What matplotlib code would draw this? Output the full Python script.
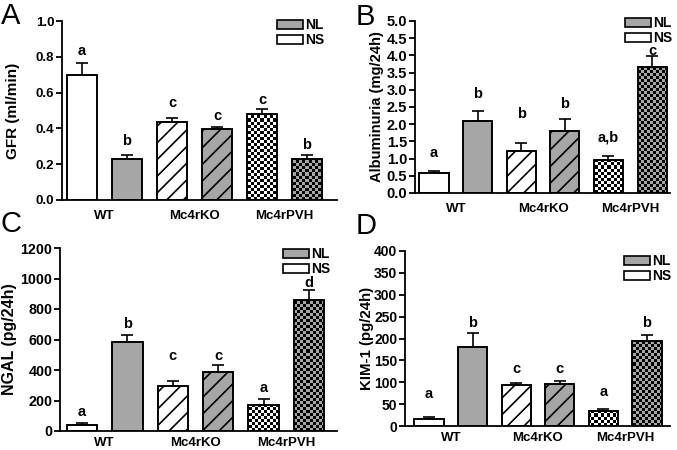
import numpy as np
import matplotlib
matplotlib.use('Agg')
import matplotlib.pyplot as plt
from matplotlib.patches import Patch

plt.rcParams['font.family'] = ['Liberation Sans', 'DejaVu Sans']
plt.rcParams['hatch.linewidth'] = 1.2

# group labels and bar order (NS, NL per group)
groups = ['WT', 'Mc4rKO', 'Mc4rPVH']
legend_labels = ['NL', 'NS']

# A - GFR
gfr_mean = [0.70, 0.23, 0.437, 0.396, 0.483, 0.23]
gfr_sem = [0.065, 0.02, 0.022, 0.013, 0.026, 0.023]
gfr_letters = ['a', 'b', 'c', 'c', 'c', 'b']
gfr_letter_y = [0.83, 0.33, 0.54, 0.47, 0.56, 0.31]

# B - Albuminuria
alb_mean = [0.58, 2.10, 1.23, 1.80, 0.97, 3.66]
alb_sem = [0.05, 0.28, 0.22, 0.34, 0.11, 0.31]
alb_letters = ['a', 'b', 'b', 'b', 'a,b', 'c']
alb_letter_y = [1.16, 2.87, 2.31, 2.59, 1.61, 4.13]

# C - NGAL
ngal_mean = [42, 585, 297, 385, 170, 860]
ngal_sem = [9, 45, 30, 48, 37, 65]
ngal_letters = ['a', 'b', 'c', 'c', 'a', 'd']
ngal_letter_y = [127, 700, 495, 495, 280, 970]

# D - KIM-1
kim_mean = [15, 180, 94, 95, 35, 195]
kim_sem = [5, 33, 4, 9, 5, 13]
kim_letters = ['a', 'b', 'c', 'c', 'a', 'b']
kim_letter_y = [72, 236, 130, 130, 78, 236]

GRAY = '#a6a6a6'
face = ['white', GRAY, 'white', GRAY, 'white', GRAY]
hatch = [None, None, '//', '//', None, None]
checker = [False, False, False, False, True, True]

W, H = 677, 450
fig = plt.figure(figsize=(W / 100, H / 100), dpi=100)


def px_axes(l, r, t, b):
    return fig.add_axes([l / W, (H - b) / H, (r - l) / W, (b - t) / H])


def add_checker(ax, bar):
    # small black squares, clipped to the bar
    bb = ax.get_position()
    w_px, h_px = bb.width * W, bb.height * H
    x0, x1 = ax.get_xlim()
    y0, y1 = ax.get_ylim()
    nx, ny = int(w_px / 3) + 1, int(h_px / 3) + 1
    jj, ii = np.meshgrid(np.arange(nx), np.arange(ny))
    rgba = np.zeros((ny, nx, 4))
    rgba[(ii + jj) % 2 == 0, 3] = 1.0
    ext = (x0, x0 + nx * 3 * (x1 - x0) / w_px, y0, y0 + ny * 3 * (y1 - y0) / h_px)
    im = ax.imshow(rgba, extent=ext, origin='lower', aspect='auto',
                   interpolation='nearest', zorder=2.5)
    im.set_clip_path(bar)
    ax.set_xlim(x0, x1)
    ax.set_ylim(y0, y1)


def panel(rect, xlim, ylim, step, mean, sem, letters, letter_y, ylabel, label_x,
          letter, letter_pos, leg_pos, tick_size=9.5, label_size=11, xpad=7):
    ax = px_axes(*rect)
    x = np.arange(6)
    ax.set_xlim(*xlim)
    ax.set_ylim(*ylim)
    bars = ax.bar(x, mean, width=0.67, color=face, edgecolor='black',
                  linewidth=1.2, zorder=2)
    for b, h in zip(bars, hatch):
        if h:
            b.set_hatch(h)
    for b, c in zip(bars, checker):
        if c:
            add_checker(ax, b)
    ax.bar(x, mean, width=0.67, fill=False, edgecolor='black', linewidth=1.2, zorder=3)
    ax.errorbar(x, mean, yerr=[np.zeros(6), sem], fmt='none', ecolor='black',
                elinewidth=1.2, capsize=4.5, capthick=1.2, zorder=1)
    for xi, t, yy in zip(x, letters, letter_y):
        ax.text(xi, yy, t, ha='center', va='center', fontsize=10.5, fontweight='bold')

    ax.set_yticks(np.arange(ylim[0], ylim[1] + step / 2, step))
    ax.set_xticks([0.5, 2.5, 4.5])
    ax.set_xticklabels(groups)
    for s in ['top', 'right']:
        ax.spines[s].set_visible(False)
    for s in ['left', 'bottom']:
        ax.spines[s].set_linewidth(1.3)
    ax.tick_params(axis='y', direction='out', length=4, width=1.3, pad=1.5,
                   labelsize=tick_size)
    ax.tick_params(axis='x', length=0, pad=xpad, labelsize=9.5)
    for t in ax.get_xticklabels() + ax.get_yticklabels():
        t.set_fontweight('bold')
    ax.set_ylabel(ylabel, fontsize=label_size, fontweight='bold')
    ax.yaxis.set_label_coords(label_x, 0.5)

    fig.text(letter_pos[0] / W, 1 - letter_pos[1] / H, letter, fontsize=21,
             ha='left', va='top')

    handles = [Patch(facecolor=GRAY, edgecolor='black', linewidth=1.2),
               Patch(facecolor='white', edgecolor='black', linewidth=1.2)]
    fig.legend(handles, legend_labels, loc='upper left',
               bbox_to_anchor=(leg_pos[0] / W, 1 - leg_pos[1] / H),
               bbox_transform=fig.transFigure, frameon=False, borderpad=0,
               borderaxespad=0, handlelength=1.9, handleheight=0.6,
               handletextpad=0.15, labelspacing=0.1,
               prop={'size': 10, 'weight': 'bold'})
    return ax


panel((62, 337, 21, 200), (-0.444, 5.667), (0, 1.0), 0.2,
      gfr_mean, gfr_sem, gfr_letters, gfr_letter_y, 'GFR (ml/min)', -0.153,
      'A', (1, 2), (277, 18))
panel((415, 670, 21, 193), (-0.436, 5.41), (0, 5.0), 0.5,
      alb_mean, alb_sem, alb_letters, alb_letter_y, 'Albuminuria (mg/24h)', -0.12,
      'B', (356, 3), (625, 16), tick_size=10.5, label_size=10.6)
panel((60, 337, 248, 431), (-0.485, 5.617), (0, 1200), 200,
      ngal_mean, ngal_sem, ngal_letters, ngal_letter_y, 'NGAL (pg/24h)', -0.155,
      'C', (1, 210), (283, 247), tick_size=10.3, label_size=11.5, xpad=4)
panel((405, 670, 251, 426), (-0.55, 5.53), (0, 400), 50,
      kim_mean, kim_sem, kim_letters, kim_letter_y, 'KIM-1 (pg/24h)', -0.117,
      'D', (356, 212), (624, 254), tick_size=10, label_size=10.8, xpad=4)

fig.savefig('out.png', dpi=100)
